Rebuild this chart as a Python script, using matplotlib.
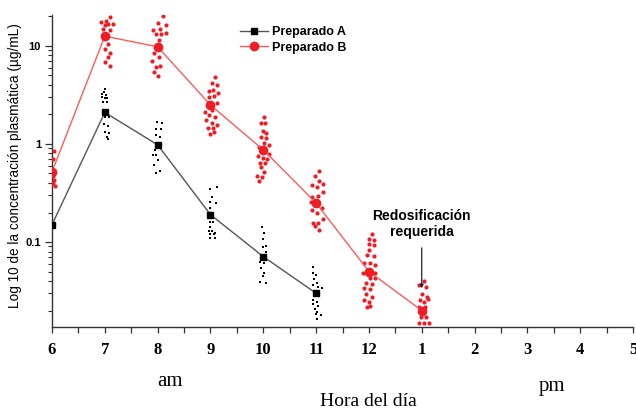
import matplotlib
matplotlib.use("Agg")
import matplotlib.pyplot as plt
from matplotlib.lines import Line2D
from matplotlib.ticker import FixedLocator, NullFormatter

sans = ['Liberation Sans', 'DejaVu Sans']
serif = ['Liberation Serif', 'DejaVu Serif']

# Mean plasma concentration (ug/mL) per hour of the day
a_hours = [6, 7, 8, 9, 10, 11]
a_mean = [0.15, 2.1, 0.98, 0.19, 0.071, 0.030]
b_hours = [6, 7, 8, 9, 10, 11, 12, 13]
b_mean = [0.52, 12.6, 9.8, 2.5, 0.87, 0.25, 0.050, 0.020]

tick_hours = list(range(6, 18))
tick_names = ['6', '7', '8', '9', '10', '11', '12', '1', '2', '3', '4', '5']

# Individual samples, Preparado A (value, small horizontal spread in hours)
a_07_y = [3.64, 3.42, 3.21, 3.16, 3.0, 2.95, 2.93, 2.7, 2.66, 1.87, 1.87, 1.6, 1.53, 1.34, 1.29, 1.19, 1.13]
a_07_dx = [0.005, -0.013, -0.05, 0.03, -0.06, 0.0, 0.05, -0.04, 0.045, 0.005, 0.07, -0.013, 0.06, 0.005, 0.075, 0.05, 0.06]
a_08_y = [1.66, 1.63, 1.41, 1.41, 1.24, 1.19, 0.868, 0.767, 0.772, 0.687, 0.615, 0.527, 0.502]
a_08_dx = [-0.013, 0.08, -0.025, 0.055, -0.04, 0.04, -0.045, -0.09, -0.025, 0.0, -0.06, 0.05, -0.04]
a_09_y = [0.345, 0.367, 0.29, 0.258, 0.252, 0.221, 0.159, 0.159, 0.143, 0.129, 0.13, 0.124, 0.12, 0.12, 0.109, 0.109]
a_09_dx = [-0.013, 0.13, 0.03, -0.013, 0.108, 0.0, 0.0, 0.05, -0.013, -0.032, 0.032, 0.095, 0.0, 0.063, -0.013, 0.095]
a_10_y = [0.141, 0.124, 0.107, 0.0917, 0.0896, 0.0796, 0.0621, 0.0615, 0.0539, 0.0486, 0.045, 0.0394, 0.0385]
a_10_dx = [-0.025, 0.006, -0.013, 0.057, -0.006, 0.057, -0.057, 0.006, -0.038, 0.019, -0.013, -0.057, 0.057]
a_11_y = [0.0552, 0.0486, 0.0461, 0.0416, 0.0385, 0.0364, 0.035, 0.0337, 0.0256, 0.0246, 0.0233, 0.0222, 0.0206, 0.0194, 0.018, 0.0184, 0.0163]
a_11_dx = [-0.051, -0.063, 0.0, -0.038, 0.013, -0.063, 0.044, 0.108, -0.051, 0.013, -0.063, 0.044, -0.019, 0.013, 0.095, 0.0, 0.013]

# Individual samples, Preparado B
b_06_y = [0.84, 0.70, 0.51, 0.475, 0.43, 0.40, 0.37]
b_06_dx = [0.04, 0.025, 0.01, 0.025, 0.04, 0.025, 0.06]
b_07_y = [22.4, 19.9, 17.6, 18.0, 16.3, 16.8, 16.8, 14.8, 14.6, 10.5, 9.25, 8.55, 7.8, 6.9, 6.25]
b_07_dx = [-0.02, 0.095, -0.08, 0.03, 0.0, 0.06, 0.15, -0.03, 0.09, 0.06, 0.0, 0.1, 0.06, 0.0, 0.095]
b_08_y = [22.4, 20.4, 17.3, 16.4, 14.6, 14.8, 13.2, 13.2, 13.5, 11.5, 8.55, 7.8, 7.1, 6.25, 6.05, 5.4, 4.95]
b_08_dx = [0.025, 0.1, 0.005, 0.15, -0.09, 0.05, -0.025, 0.07, 0.165, 0.025, -0.07, 0.025, -0.11, 0.05, -0.025, -0.06, 0.015]
b_09_y = [4.86, 4.16, 4.0, 3.5, 3.56, 3.29, 3.09, 3.04, 2.64, 2.14, 2.22, 1.98, 1.9, 1.76, 1.65, 1.56, 1.45, 1.45, 1.32, 1.26]
b_09_dx = [0.095, 0.02, 0.127, -0.03, 0.044, 0.146, 0.063, -0.02, 0.127, -0.095, 0.02, -0.02, 0.08, -0.076, 0.02, 0.127, -0.044, 0.044, 0.076, 0.0]
b_10_y = [1.9, 1.65, 1.63, 1.37, 1.3, 1.17, 1.14, 1.02, 0.977, 0.925, 0.791, 0.754, 0.725, 0.708, 0.644, 0.635, 0.578, 0.522, 0.472, 0.464, 0.422]
b_10_dx = [0.006, 0.038, -0.038, -0.013, 0.057, -0.038, 0.051, 0.006, 0.1, -0.09, 0.114, -0.1, -0.006, 0.07, -0.057, 0.038, -0.038, 0.006, -0.12, -0.025, -0.076]
b_11_y = [0.534, 0.472, 0.422, 0.391, 0.382, 0.362, 0.324, 0.29, 0.295, 0.258, 0.221, 0.212, 0.199, 0.171, 0.157, 0.155, 0.146, 0.133]
b_11_dx = [0.057, -0.019, 0.057, 0.139, -0.07, 0.013, 0.139, -0.083, 0.044, -0.095, 0.108, -0.083, 0.013, 0.139, -0.051, 0.032, -0.019, 0.057]
b_12_y = [0.121, 0.107, 0.105, 0.0948, 0.0925, 0.0829, 0.0736, 0.072, 0.0615, 0.0606, 0.0583, 0.0486, 0.0486, 0.0426, 0.0426,
          0.0379, 0.0373, 0.0337, 0.0329, 0.0293, 0.0276, 0.0256, 0.0246, 0.0222, 0.0219]
b_12_dx = [0.051, 0.006, 0.089, 0.006, 0.089, 0.006, -0.038, 0.089, -0.1, 0.025, 0.114, -0.12, 0.114, 0.025, 0.114,
           -0.057, 0.051, -0.089, 0.025, -0.057, 0.051, -0.089, 0.006, 0.025, -0.038]
b_13_y = [0.040, 0.0364, 0.0345, 0.0295, 0.0273, 0.0256, 0.0246, 0.0262, 0.0219, 0.0219, 0.0173, 0.0173, 0.0148, 0.0148, 0.0148]
b_13_dx = [0.05, -0.05, 0.076, 0.0, 0.095, -0.032, 0.05, 0.127, -0.05, 0.063, -0.013, 0.082, -0.044, 0.05, 0.139]

a_samples = [(7, a_07_dx, a_07_y), (8, a_08_dx, a_08_y), (9, a_09_dx, a_09_y),
             (10, a_10_dx, a_10_y), (11, a_11_dx, a_11_y)]
b_samples = [(6, b_06_dx, b_06_y), (7, b_07_dx, b_07_y), (8, b_08_dx, b_08_y), (9, b_09_dx, b_09_y),
             (10, b_10_dx, b_10_y), (11, b_11_dx, b_11_y), (12, b_12_dx, b_12_y), (13, b_13_dx, b_13_y)]

red = '#ee1c25'

fig = plt.figure(figsize=(6.36, 4.09), dpi=100)
ax = fig.add_axes([52 / 636, 1 - 327 / 409, 581 / 636, 312 / 409])

# individual samples
for h, dx, ys in b_samples:
    ax.scatter([h + d for d in dx], ys, s=9, color=red, marker='o', linewidths=0, zorder=3)
for h, dx, ys in a_samples:
    ax.scatter([h + d for d in dx], ys, s=2.5, color='black', marker='s', linewidths=0, zorder=3)

# mean curves
ax.plot(a_hours, a_mean, color='#555555', lw=1.0, marker='s', markersize=5,
        markerfacecolor='black', markeredgecolor='black', zorder=4)
ax.plot(b_hours, b_mean, color='#ff5a5a', lw=1.0, marker='o', markersize=6,
        markerfacecolor=red, markeredgecolor=red, zorder=4)

ax.set_yscale('log')
ax.set_ylim(0.01358, 20.7)
ax.set_xlim(6, 17)

ax.set_xticks(tick_hours)
ax.set_xticklabels(tick_names, fontfamily=serif, fontweight='bold', fontsize=12)
ax.xaxis.set_minor_locator(FixedLocator([h + 0.5 for h in tick_hours[:-1]]))
ax.tick_params(axis='x', which='both', direction='out', length=4.5, width=0.9, pad=6, color='#333333')

ax.set_yticks([0.1, 1, 10])
ax.set_yticklabels(['0.1', '1', '10'], fontfamily=sans, fontweight='bold', fontsize=8)
ax.yaxis.set_minor_formatter(NullFormatter())
ax.tick_params(axis='y', which='major', direction='out', length=5, width=0.9, pad=3, color='#333333')
ax.tick_params(axis='y', which='minor', direction='out', length=3, width=0.8, color='#333333')

for side in ['top', 'right']:
    ax.spines[side].set_visible(False)
for side in ['left', 'bottom']:
    ax.spines[side].set_color('#333333')
    ax.spines[side].set_linewidth(1.0)

fig.text(15 / 636, 1 - 166 / 409, 'Log 10 de la concentración plasmática (µg/mL)', fontfamily=sans,
         fontsize=9.8, rotation=90, ha='center', va='center')

fig.text(170 / 636, 1 - 381 / 409, 'am', fontfamily=serif, fontsize=15, ha='center', va='center')
fig.text(552 / 636, 1 - 387 / 409, 'pm', fontfamily=serif, fontsize=15, ha='center', va='center')
fig.text(368 / 636, 1 - 401 / 409, 'Hora del día', fontfamily=serif, fontsize=14, ha='center', va='center')

# redosing note
ax.text(13, 0.153, 'Redosificación\nrequerida', fontfamily=sans, fontweight='bold', fontsize=10,
        ha='center', va='center', linespacing=1.25)
ax.annotate('', xy=(13, 0.0316), xytext=(13, 0.093),
            arrowprops=dict(arrowstyle='-|>', lw=0.9, color='#222222', mutation_scale=5))

handles = [
    Line2D([], [], color='#555555', lw=1.0, marker='s', markersize=5,
           markerfacecolor='black', markeredgecolor='black'),
    Line2D([], [], color='#ff5a5a', lw=1.0, marker='o', markersize=6,
           markerfacecolor=red, markeredgecolor=red),
]
fig.legend(handles, ['Preparado A', 'Preparado B'], loc='upper left',
           bbox_to_anchor=(240 / 636, 1 - 26 / 409), frameon=False, borderpad=0, borderaxespad=0,
           handlelength=2.2, handletextpad=0.4, labelspacing=0.3,
           prop={'family': sans, 'weight': 'bold', 'size': 9})

fig.savefig('out.png', dpi=100)
